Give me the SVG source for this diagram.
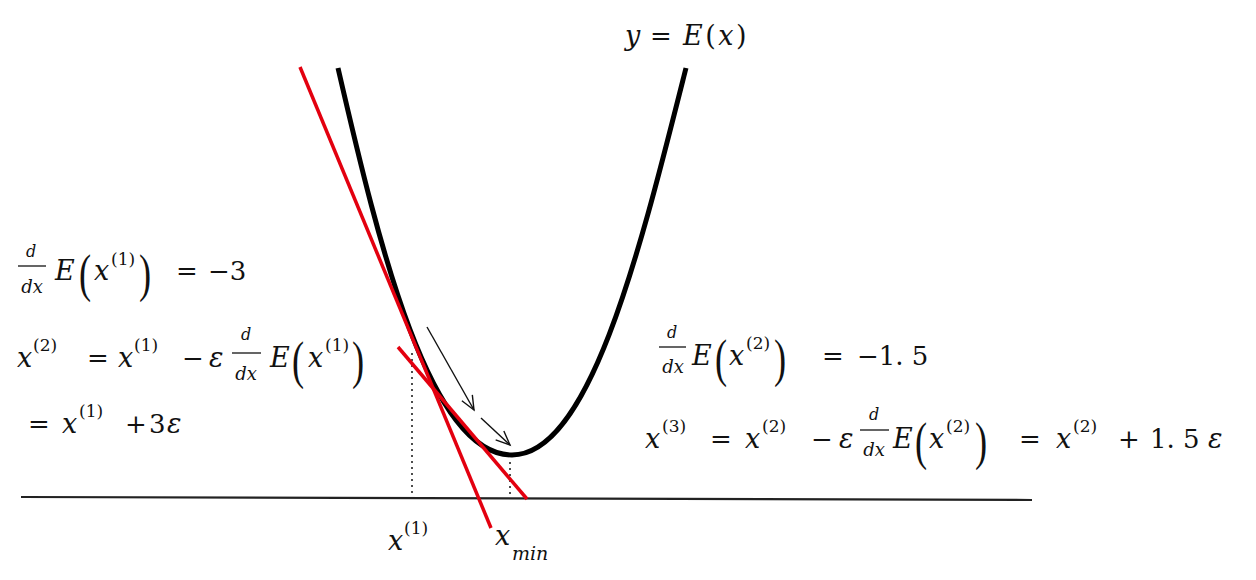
<svg xmlns="http://www.w3.org/2000/svg" width="1256" height="580" viewBox="0 0 1256 580">
<style>
text{font-family:"DejaVu Serif","Liberation Serif",serif;fill:#111}
.m{font-style:italic;font-size:27px}
.u{font-size:26px}
.s{font-size:17px}
.fn{font-style:italic;font-size:16px;text-anchor:middle}
.fd{font-style:italic;font-size:18px;text-anchor:middle}
.p{font-family:"Liberation Serif",serif;font-size:52px}
.fl{stroke:#111;stroke-width:1.3}
.dot{stroke:#222;stroke-width:1.6;stroke-dasharray:2 4;fill:none}
.red{stroke:#e3000f;stroke-width:3.5;fill:none}
.arr{stroke:#111;stroke-width:1.4;fill:none;marker-end:url(#ah)}
</style>
<defs>
<marker id="ah" markerUnits="userSpaceOnUse" markerWidth="20" markerHeight="20" refX="15" refY="7" orient="auto">
<path d="M1,1 L15,7 L1,13" fill="none" stroke="#111" stroke-width="1.4"/>
</marker>
</defs>
<rect width="1256" height="580" fill="#fff"/>

<g id="axis"><line x1="21" y1="497" x2="1032" y2="500" stroke="#222" stroke-width="2.2"/></g>

<g id="guides">
<line class="dot" x1="412" y1="353" x2="412" y2="494"/>
<line class="dot" x1="510" y1="462" x2="510" y2="497"/>
</g>

<g id="curve"><path d="M338,68 C380,250 430,455 512,455 C590,455 640,250 686,68" fill="none" stroke="#000" stroke-width="5"/></g>

<g id="tangents">
<line class="red" x1="300" y1="67" x2="491" y2="528"/>
<line class="red" x1="398" y1="347" x2="527" y2="499"/>
</g>

<g id="connectors">
<line class="arr" x1="427" y1="327" x2="474" y2="410"/>
<line class="arr" x1="481" y1="418" x2="510" y2="445"/>
</g>

<g id="title">
<text class="m" x="625" y="45">y</text>
<text class="u" x="650" y="45">=</text>
<text x="683" y="45" style="font-size:27px;letter-spacing:2.5px"><tspan font-style="italic">E</tspan>(<tspan font-style="italic">x</tspan>)</text>
</g>

<g id="left-row1">
<text class="fn" x="31" y="257">d</text>
<line class="fl" x1="18" y1="266" x2="46" y2="266"/>
<text class="fd" x="32" y="293">dx</text>
<text class="m" x="55" y="280">E</text>
<text class="p" transform="translate(79,291) scale(0.7,1)">(</text>
<text class="m" x="94" y="280">x</text>
<text class="s" x="111" y="265">(1)</text>
<text class="p" transform="translate(139,291) scale(0.7,1)">)</text>
<text class="u" x="176" y="280">=</text>
<text class="u" x="208" y="280">−3</text>
</g>

<g id="left-row2">
<text class="m" x="17" y="367">x</text>
<text class="s" x="33" y="351">(2)</text>
<text class="u" x="87" y="367">=</text>
<text class="m" x="118" y="367">x</text>
<text class="s" x="134" y="351">(1)</text>
<text class="u" x="182" y="367">−</text>
<text class="m" x="209" y="367">ε</text>
<text class="fn" x="246" y="340">d</text>
<line class="fl" x1="232" y1="353" x2="261" y2="353"/>
<text class="fd" x="246" y="380">dx</text>
<text class="m" x="270" y="367">E</text>
<text class="p" transform="translate(292,378) scale(0.7,1)">(</text>
<text class="m" x="308" y="367">x</text>
<text class="s" x="325" y="351">(1)</text>
<text class="p" transform="translate(352,378) scale(0.7,1)">)</text>
</g>

<g id="left-row3">
<text class="u" x="28" y="433">=</text>
<text class="m" x="62" y="433">x</text>
<text class="s" x="79" y="417">(1)</text>
<text class="u" x="125" y="433">+</text>
<text class="u" x="149" y="433">3</text>
<text class="m" x="167" y="433">ε</text>
</g>

<g id="right-row1">
<text class="fn" x="672" y="338">d</text>
<line class="fl" x1="659" y1="347" x2="686" y2="347"/>
<text class="fd" x="673" y="373">dx</text>
<text class="m" x="692" y="365">E</text>
<text class="p" transform="translate(715,376) scale(0.7,1)">(</text>
<text class="m" x="729" y="365">x</text>
<text class="s" x="746" y="349">(2)</text>
<text class="p" transform="translate(774,376) scale(0.7,1)">)</text>
<text class="u" x="822" y="365">=</text>
<text class="u" x="857" y="365">−1. 5</text>
</g>

<g id="right-row2">
<text class="m" x="645" y="448">x</text>
<text class="s" x="662" y="432">(3)</text>
<text class="u" x="710" y="448">=</text>
<text class="m" x="745" y="448">x</text>
<text class="s" x="762" y="432">(2)</text>
<text class="u" x="811" y="448">−</text>
<text class="m" x="839" y="448">ε</text>
<text class="fn" x="874" y="420">d</text>
<line class="fl" x1="860" y1="430" x2="889" y2="430"/>
<text class="fd" x="874" y="456">dx</text>
<text class="m" x="893" y="448">E</text>
<text class="p" transform="translate(915,459) scale(0.7,1)">(</text>
<text class="m" x="929" y="448">x</text>
<text class="s" x="946" y="432">(2)</text>
<text class="p" transform="translate(975,459) scale(0.7,1)">)</text>
<text class="u" x="1019" y="448">=</text>
<text class="m" x="1056" y="448">x</text>
<text class="s" x="1073" y="432">(2)</text>
<text class="u" x="1118" y="448">+</text>
<text class="u" x="1150" y="448">1. 5</text>
<text class="m" x="1208" y="448">ε</text>
</g>

<g id="x1-label">
<text class="m" x="388" y="550">x</text>
<text class="s" x="404" y="534">(1)</text>
</g>
<g id="xmin-label">
<text class="m" x="495" y="545">x</text>
<text class="m" x="512" y="560" style="font-size:19px">min</text>
</g>
</svg>
